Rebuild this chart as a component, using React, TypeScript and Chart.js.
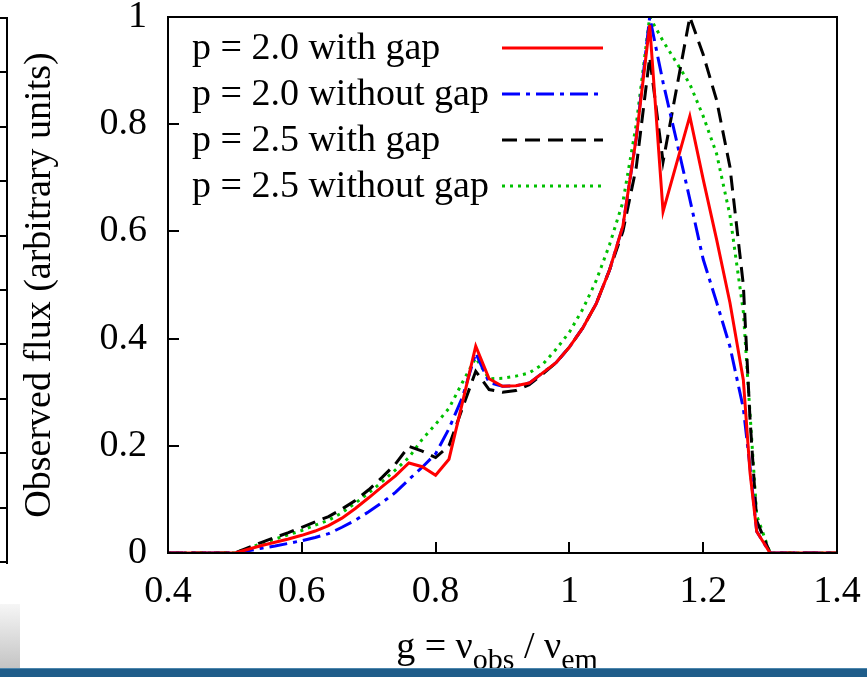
import React, { useEffect, useRef } from 'react';
import { Chart, registerables } from 'chart.js';

Chart.register(...registerables);

const FONT = '"Liberation Serif", "Times New Roman", serif';

// g = nu_obs / nu_em
const G = [
  0.40, 0.42, 0.44, 0.46, 0.48, 0.50, 0.52, 0.54, 0.56, 0.58,
  0.60, 0.62, 0.64, 0.66, 0.68, 0.70, 0.72, 0.74, 0.76, 0.78,
  0.80, 0.82, 0.84, 0.86, 0.88, 0.90, 0.92, 0.94, 0.96, 0.98,
  1.00, 1.02, 1.04, 1.06, 1.08, 1.10, 1.12, 1.14, 1.16, 1.18,
  1.20, 1.22, 1.24, 1.26, 1.27, 1.28, 1.30, 1.32, 1.34, 1.36,
  1.38, 1.40,
];

const P20_GAP = [
  0, 0, 0, 0, 0, 0, 0.007, 0.014, 0.020, 0.026,
  0.033, 0.041, 0.051, 0.065, 0.083, 0.103, 0.124, 0.144, 0.168, 0.161,
  0.145, 0.175, 0.28, 0.386, 0.325, 0.311, 0.312, 0.317, 0.336, 0.355,
  0.384, 0.42, 0.465, 0.528, 0.61, 0.775, 0.985, 0.637, 0.726, 0.815,
  0.697, 0.585, 0.467, 0.323, 0.15, 0.04, 0, 0, 0, 0,
  0, 0,
];

const P20_NOGAP = [
  0, 0, 0, 0, 0, 0, 0.004, 0.009, 0.013, 0.018,
  0.023, 0.029, 0.036, 0.048, 0.061, 0.077, 0.094, 0.113, 0.137, 0.16,
  0.185, 0.232, 0.29, 0.373, 0.318, 0.311, 0.312, 0.317, 0.336, 0.355,
  0.384, 0.42, 0.465, 0.528, 0.61, 0.775, 1.0, 0.878, 0.77, 0.66,
  0.548, 0.468, 0.385, 0.27, 0.16, 0.04, 0, 0, 0, 0,
  0, 0,
];

const P25_GAP = [
  0, 0, 0, 0, 0, 0, 0.010, 0.020, 0.029, 0.038,
  0.048, 0.058, 0.068, 0.082, 0.098, 0.118, 0.141, 0.166, 0.199, 0.19,
  0.178, 0.20, 0.27, 0.339, 0.305, 0.30, 0.303, 0.314, 0.334, 0.355,
  0.384, 0.42, 0.465, 0.528, 0.60, 0.72, 0.925, 0.73, 0.865, 1.0,
  0.93, 0.845, 0.72, 0.50, 0.25, 0.06, 0, 0, 0, 0,
  0, 0,
];

const P25_NOGAP = [
  0, 0, 0, 0, 0, 0, 0.009, 0.018, 0.026, 0.034,
  0.042, 0.052, 0.061, 0.075, 0.093, 0.112, 0.133, 0.155, 0.178, 0.212,
  0.24, 0.27, 0.318, 0.364, 0.325, 0.326, 0.330, 0.336, 0.352, 0.380,
  0.412, 0.455, 0.508, 0.575, 0.655, 0.80, 1.0, 0.955, 0.915, 0.875,
  0.815, 0.745, 0.63, 0.45, 0.26, 0.07, 0, 0, 0, 0,
  0, 0,
];

const X_TICKS = [0.4, 0.6, 0.8, 1.0, 1.2, 1.4];
const Y_TICKS = [0, 0.2, 0.4, 0.6, 0.8, 1.0];

const LABELS = [
  'p = 2.0 with gap',
  'p = 2.0 without gap',
  'p = 2.5 with gap',
  'p = 2.5 without gap',
];
const COLORS = ['#ff0000', '#0000ff', '#000000', '#00c000'];
const DASHES: number[][] = [[], [18, 6, 4, 6], [15, 8], [3, 5]];
const SERIES = [P20_GAP, P20_NOGAP, P25_GAP, P25_NOGAP];

const Y_TITLE = 'Observed flux (arbitrary units)';

const decorPlugin = {
  id: 'decor',
  afterDraw(chart: any) {
    const { ctx, chartArea: a, scales } = chart;
    const xs = scales.x;
    const ys = scales.y;
    ctx.save();
    ctx.strokeStyle = '#000';
    ctx.lineWidth = 2;
    ctx.setLineDash([]);
    ctx.beginPath();
    X_TICKS.slice(1, -1).forEach((t) => {
      const px = Math.round(xs.getPixelForValue(t));
      ctx.moveTo(px, a.bottom);
      ctx.lineTo(px, a.bottom - 11);
    });
    Y_TICKS.slice(1, -1).forEach((t) => {
      const py = Math.round(ys.getPixelForValue(t));
      ctx.moveTo(a.left, py);
      ctx.lineTo(a.left + 11, py);
    });
    ctx.stroke();
    ctx.strokeRect(a.left, a.top, a.right - a.left, a.bottom - a.top);

    // legend (gnuplot style: text then sample)
    ctx.font = `38px ${FONT}`;
    ctx.fillStyle = '#000';
    ctx.textAlign = 'left';
    ctx.textBaseline = 'middle';
    LABELS.forEach((lab, i) => {
      const yy = a.top + 31 + i * 46;
      ctx.fillText(lab, a.left + 24, yy + 1);
      ctx.save();
      ctx.strokeStyle = COLORS[i];
      ctx.lineWidth = 3;
      ctx.setLineDash(DASHES[i]);
      ctx.beginPath();
      ctx.moveTo(a.left + 334, yy);
      ctx.lineTo(a.left + 435, yy);
      ctx.stroke();
      ctx.restore();
    });

    // x-axis title with subscripts
    const big = `38px ${FONT}`;
    const small = `30px ${FONT}`;
    const parts: [string, string, number][] = [
      ['g = \u03bd', big, 0],
      ['obs', small, 11],
      [' / \u03bd', big, 0],
      ['em', small, 11],
    ];
    let total = 0;
    parts.forEach(([t, f]) => {
      ctx.font = f;
      total += ctx.measureText(t).width;
    });
    let cx = 497 - total / 2;
    const base = 658;
    ctx.textBaseline = 'alphabetic';
    parts.forEach(([t, f, dy]) => {
      ctx.font = f;
      ctx.fillText(t, cx, base + dy);
      cx += ctx.measureText(t).width;
    });
    ctx.restore();
  },
};

export default function App() {
  const ref = useRef<HTMLCanvasElement | null>(null);

  useEffect(() => {
    if (!ref.current) return;
    const datasets = SERIES.map((s, i) => ({
      label: LABELS[i],
      data: G.map((g, j) => ({ x: g, y: s[j] })),
      borderColor: COLORS[i],
      backgroundColor: COLORS[i],
      borderWidth: 3,
      borderDash: DASHES[i],
      borderCapStyle: 'butt' as const,
      pointRadius: 0,
      tension: 0,
      fill: false,
    }));
    const chart = new Chart(ref.current, {
      type: 'line',
      data: { datasets },
      options: {
        animation: false,
        responsive: true,
        maintainAspectRatio: false,
        layout: { padding: { left: 0, top: 17, right: 30, bottom: 0 }, autoPadding: false },
        plugins: {
          legend: { display: false },
          tooltip: { enabled: false },
        },
        scales: {
          x: {
            type: 'linear',
            min: 0.4,
            max: 1.4,
            grid: { display: false, drawTicks: false },
            border: { display: false },
            afterBuildTicks: (s: any) => {
              s.ticks = X_TICKS.map((v) => ({ value: v }));
            },
            afterFit: (s: any) => {
              s.height = 124;
              s.paddingLeft = 0;
              s.paddingRight = 0;
              s.paddingTop = 0;
              s.paddingBottom = 0;
            },
            ticks: {
              padding: 16,
              color: '#000',
              font: { family: FONT, size: 38 },
              maxRotation: 0,
              callback: (v: any) => String(+Number(v).toFixed(1)),
            },
          },
          y: {
            type: 'linear',
            min: 0,
            max: 1,
            grid: { display: false, drawTicks: false },
            border: { display: false },
            afterBuildTicks: (s: any) => {
              s.ticks = Y_TICKS.map((v) => ({ value: v }));
            },
            afterFit: (s: any) => {
              s.width = 168;
              s.paddingLeft = 0;
              s.paddingRight = 0;
              s.paddingTop = 0;
              s.paddingBottom = 0;
            },
            ticks: {
              padding: 21,
              color: '#000',
              font: { family: FONT, size: 38 },
              callback: (v: any) => String(+Number(v).toFixed(1)),
            },
            title: {
              display: true,
              text: Y_TITLE,
              color: '#000',
              font: { family: FONT, size: 38 },
              padding: { top: 17, bottom: 0 },
            },
          },
        },
      },
      plugins: [decorPlugin],
    });
    return () => chart.destroy();
  }, []);

  const fringeTicks = Array.from({ length: 11 }, (_, i) => 18 + i * 54.4);

  return (
    <div style={{ position: 'absolute', left: 0, top: 0, width: 867, height: 677, background: '#fff', overflow: 'hidden' }}>
      <canvas ref={ref} style={{ position: 'absolute', left: 0, top: 0, width: 867, height: 677 }} />
      {/* right edge of the neighbouring panel */}
      <div style={{ position: 'absolute', left: 6, top: 17, width: 2, height: 547, background: '#000' }} />
      {fringeTicks.map((t, i) => (
        <div key={i} style={{ position: 'absolute', left: 0, top: t - 1, width: 7, height: 2, background: '#000' }} />
      ))}
      <div style={{ position: 'absolute', left: 0, top: 604, width: 20, height: 64, background: 'linear-gradient(#f6f6f6, #c4c4c4)' }} />
      <div style={{ position: 'absolute', left: 0, top: 668, width: 867, height: 9, background: '#1f5d8a', borderTop: '1px solid #4c86ad' }} />
    </div>
  );
}
